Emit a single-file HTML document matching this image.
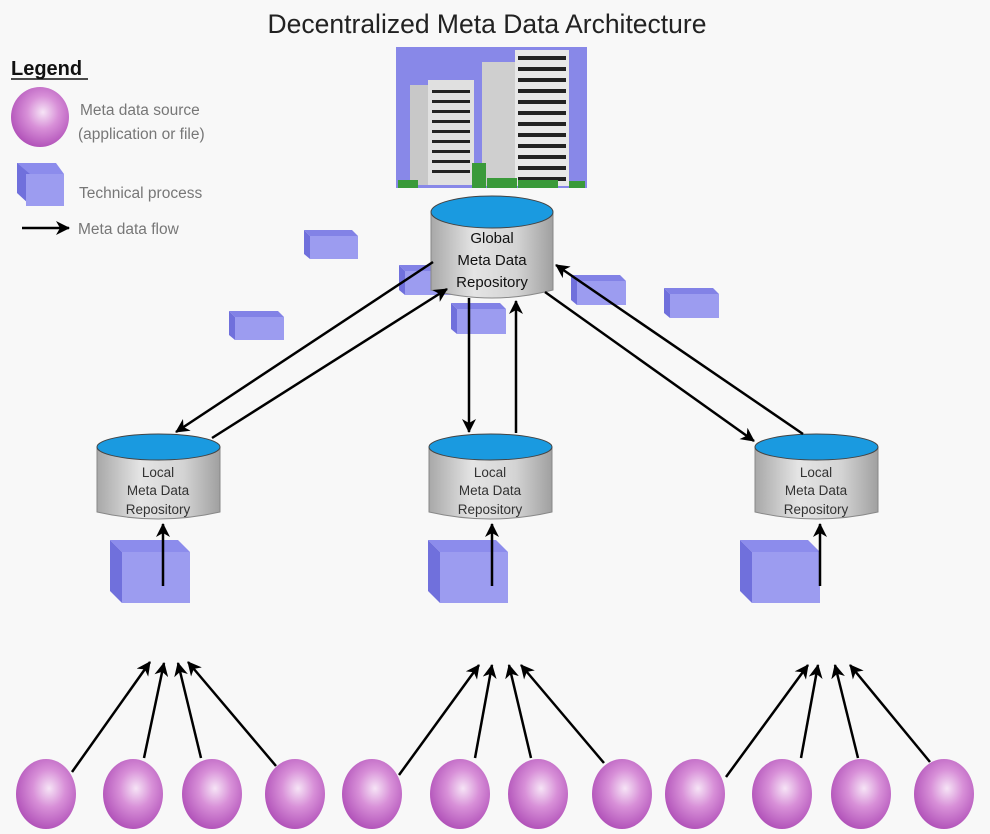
<!DOCTYPE html>
<html><head><meta charset="utf-8"><style>html,body{margin:0;padding:0;background:#f8f8f8}svg{display:block}</style></head>
<body>
<svg width="990" height="834" viewBox="0 0 990 834" xmlns="http://www.w3.org/2000/svg" font-family="Liberation Sans, sans-serif">
<defs>
<radialGradient id="sph" cx="0.55" cy="0.42" r="0.6">
<stop offset="0" stop-color="#f6e4f6"/><stop offset="0.45" stop-color="#d890d8"/><stop offset="1" stop-color="#b050b8"/>
</radialGradient>
<linearGradient id="cyl" x1="0" x2="1">
<stop offset="0" stop-color="#a8a8a8"/><stop offset="0.35" stop-color="#e4e4e4"/><stop offset="0.7" stop-color="#d4d4d4"/><stop offset="1" stop-color="#a0a0a0"/>
</linearGradient>
<marker id="ah" markerWidth="14" markerHeight="14" refX="13" refY="7" orient="auto" markerUnits="userSpaceOnUse" viewBox="0 0 14 14">
<path d="M0,0 L14,7 L0,14 L4,7 z" fill="#000"/></marker>
<g id="sp"><ellipse cx="0" cy="0" rx="30" ry="35" fill="url(#sph)"/></g>
</defs>
<rect width="990" height="834" fill="#f8f8f8"/>
<text x="487" y="33" text-anchor="middle" font-size="26.5" fill="#222">Decentralized Meta Data Architecture</text>

<text x="11" y="75" font-size="20" font-weight="bold" fill="#111">Legend</text>
<line x1="11" y1="79" x2="88" y2="79" stroke="#111" stroke-width="1.5"/>
<ellipse cx="40" cy="117" rx="29" ry="30" fill="url(#sph)"/>
<text x="80" y="115" font-size="15.5" fill="#777">Meta data source</text>
<text x="78" y="139" font-size="15.5" fill="#777">(application or file)</text>
<g><polygon points="17,163 30,163 30,205 17,193" fill="#7070dc"/><polygon points="17,163 56,163 64,174 30,174" fill="#8c8cec"/><rect x="26" y="174" width="38" height="32" fill="#9c9cf0"/></g>
<text x="79" y="198" font-size="15.5" fill="#777">Technical process</text>
<line x1="22" y1="228" x2="69" y2="228" stroke="#000" stroke-width="2.5" marker-end="url(#ah)"/>
<text x="78" y="234" font-size="15.5" fill="#777">Meta data flow</text>

<rect x="396" y="47" width="191" height="141" fill="#8888e8"/>
<rect x="410" y="85" width="18" height="100" fill="#c8c8c8"/>
<rect x="428" y="80" width="46" height="105" fill="#e0e0e0"/>
<g fill="#222">
<rect x="432" y="90" width="38" height="3"/><rect x="432" y="100" width="38" height="3"/><rect x="432" y="110" width="38" height="3"/><rect x="432" y="120" width="38" height="3"/><rect x="432" y="130" width="38" height="3"/><rect x="432" y="140" width="38" height="3"/><rect x="432" y="150" width="38" height="3"/><rect x="432" y="160" width="38" height="3"/><rect x="432" y="170" width="38" height="3"/>
</g>
<rect x="482" y="62" width="40" height="124" fill="#cfcfcf"/>
<rect x="515" y="50" width="54" height="136" fill="#e8e8e8"/>
<g fill="#222">
<rect x="518" y="56" width="48" height="4"/><rect x="518" y="67" width="48" height="4"/><rect x="518" y="78" width="48" height="4"/><rect x="518" y="89" width="48" height="4"/><rect x="518" y="100" width="48" height="4"/><rect x="518" y="111" width="48" height="4"/><rect x="518" y="122" width="48" height="4"/><rect x="518" y="133" width="48" height="4"/><rect x="518" y="144" width="48" height="4"/><rect x="518" y="155" width="48" height="4"/><rect x="518" y="166" width="48" height="4"/><rect x="518" y="177" width="48" height="4"/>
</g>
<g fill="#3a9a3a"><rect x="398" y="180" width="20" height="8"/><rect x="472" y="163" width="14" height="25"/><rect x="487" y="178" width="30" height="10"/><rect x="518" y="180" width="40" height="8"/><rect x="569" y="181" width="16" height="7"/></g>

<g>
<polygon points="304,230 352,230 358,236 310,236" fill="#8282e6"/><polygon points="304,230 310,236 310,259 304,254" fill="#7070dc"/><rect x="310" y="236" width="48" height="23" fill="#9c9cf0"/>
<polygon points="399,265 447,265 453,271 405,271" fill="#8282e6"/><polygon points="399,265 405,271 405,295 399,290" fill="#7070dc"/><rect x="405" y="271" width="48" height="24" fill="#9c9cf0"/>
<polygon points="229,311 278,311 284,317 235,317" fill="#8282e6"/><polygon points="229,311 235,317 235,340 229,335" fill="#7070dc"/><rect x="235" y="317" width="49" height="23" fill="#9c9cf0"/>
<polygon points="451,303 500,303 506,309 457,309" fill="#8282e6"/><polygon points="451,303 457,309 457,334 451,329" fill="#7070dc"/><rect x="457" y="309" width="49" height="25" fill="#9c9cf0"/>
<polygon points="571,275 620,275 626,281 577,281" fill="#8282e6"/><polygon points="571,275 577,281 577,305 571,300" fill="#7070dc"/><rect x="577" y="281" width="49" height="24" fill="#9c9cf0"/>
<polygon points="664,288 713,288 719,294 670,294" fill="#8282e6"/><polygon points="664,288 670,294 670,318 664,313" fill="#7070dc"/><rect x="670" y="294" width="49" height="24" fill="#9c9cf0"/>
</g>

<path d="M431,212 L431,290 Q492,306 553,290 L553,212 Z" fill="url(#cyl)" stroke="#888" stroke-width="1"/>
<ellipse cx="492" cy="212" rx="61" ry="16" fill="#1a9ae0" stroke="#444" stroke-width="1"/>
<text x="492" y="243" text-anchor="middle" font-size="15" fill="#111">Global</text>
<text x="492" y="265" text-anchor="middle" font-size="15" fill="#111">Meta Data</text>
<text x="492" y="287" text-anchor="middle" font-size="15" fill="#111">Repository</text>

<g id="loc">
<path d="M97,447 L97,512 Q158,526 220,512 L220,447 Z" fill="url(#cyl)" stroke="#888" stroke-width="1"/>
<ellipse cx="158.5" cy="447" rx="61.5" ry="13" fill="#1a9ae0" stroke="#444" stroke-width="1"/>
<text x="158" y="477" text-anchor="middle" font-size="13.5" fill="#333">Local</text>
<text x="158" y="495" text-anchor="middle" font-size="13.5" fill="#333">Meta Data</text>
<text x="158" y="514" text-anchor="middle" font-size="13.5" fill="#333">Repository</text>
</g>
<use href="#loc" x="332"/>
<use href="#loc" x="658"/>

<g id="bc">
<polygon points="110,540 178,540 190,552 122,552" fill="#8c8cec"/><polygon points="110,540 122,552 122,603 110,591" fill="#7070dc"/><rect x="122" y="552" width="68" height="51" fill="#9c9cf0"/>
</g>
<use href="#bc" x="318"/>
<use href="#bc" x="630"/>
<g stroke="#000" stroke-width="2.5" fill="none" marker-end="url(#ah)">
<line x1="163" y1="586" x2="163" y2="524"/>
<line x1="492" y1="586" x2="492" y2="524"/>
<line x1="820" y1="586" x2="820" y2="524"/>

<line x1="433" y1="262" x2="176" y2="432"/>
<line x1="212" y1="438" x2="447" y2="289"/>
<line x1="469" y1="298" x2="469" y2="432"/>
<line x1="516" y1="433" x2="516" y2="301"/>
<line x1="545" y1="292" x2="754" y2="441"/>
<line x1="803" y1="434" x2="556" y2="265"/>

<line x1="72" y1="772" x2="150" y2="662"/>
<line x1="144" y1="758" x2="164" y2="663"/>
<line x1="201" y1="758" x2="178" y2="663"/>
<line x1="276" y1="766" x2="188" y2="662"/>
<line x1="399" y1="775" x2="479" y2="665"/>
<line x1="475" y1="758" x2="492" y2="665"/>
<line x1="531" y1="758" x2="509" y2="665"/>
<line x1="604" y1="763" x2="521" y2="665"/>
<line x1="726" y1="777" x2="808" y2="665"/>
<line x1="801" y1="758" x2="818" y2="665"/>
<line x1="858" y1="758" x2="835" y2="665"/>
<line x1="930" y1="762" x2="850" y2="665"/>
</g>
<use href="#sp" x="46" y="794"/><use href="#sp" x="133" y="794"/><use href="#sp" x="212" y="794"/><use href="#sp" x="295" y="794"/>
<use href="#sp" x="372" y="794"/><use href="#sp" x="460" y="794"/><use href="#sp" x="538" y="794"/><use href="#sp" x="622" y="794"/>
<use href="#sp" x="695" y="794"/><use href="#sp" x="782" y="794"/><use href="#sp" x="861" y="794"/><use href="#sp" x="944" y="794"/>
</svg>
</body></html>
